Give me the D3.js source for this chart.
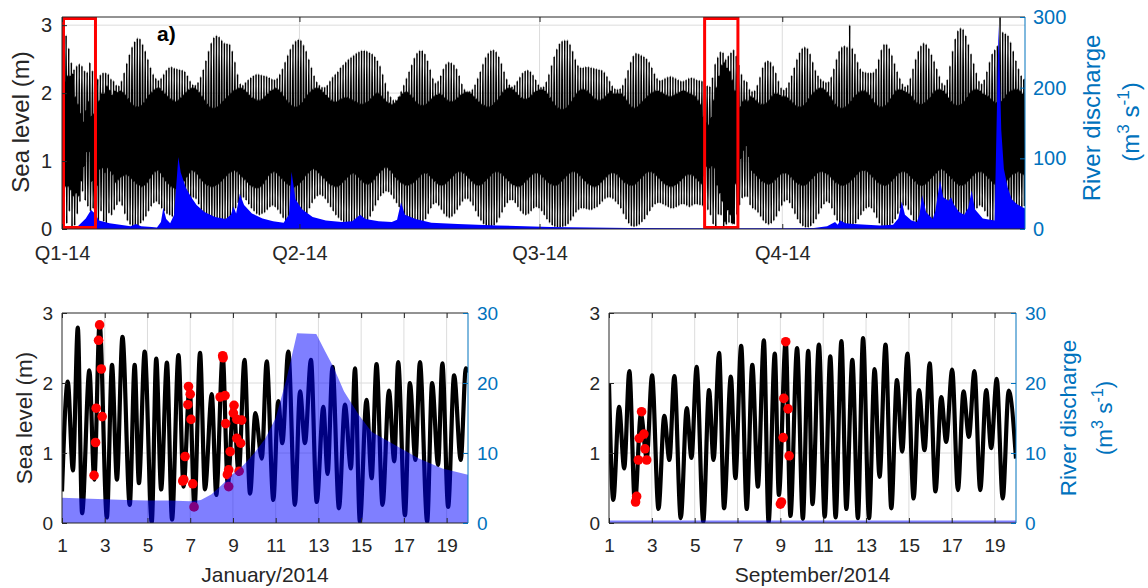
<!DOCTYPE html>
<html><head><meta charset="utf-8">
<script src="https://cdn.jsdelivr.net/npm/d3@7"></script>
<style>
html,body{margin:0;padding:0;background:#fff;}
</style></head><body>
<svg id="c" width="1148" height="588"></svg>
<script>
// ---------------- DATA ----------------
// Top panel: year 2014, one entry per day (day-of-year 0..364), sea level in cm
const quarterDays = [0, 90, 181, 273];
const quarterLabels = ["Q1-14", "Q2-14", "Q3-14", "Q4-14"];
// higher high water per day (cm)
const highHigh = [
279,285,266,245,235,240,243,240,233,231, 245,233,223,221,227,230,230,228,221,218,
212,211,218,230,244,257,268,276,281,280, 272,262,250,238,228,222,219,222,228,234,
238,239,237,236,235,234,232,226,218,213, 212,216,224,235,248,262,274,282,285,283,
278,274,273,272,262,246,228,214,212,216, 220,223,226,228,228,227,226,225,223,221,
220,222,228,236,246,256,265,272,277,279, 278,271,262,250,238,226,217,212,209,209,
212,218,224,228,232,238,242,246,250,253, 256,259,261,263,263,262,260,258,254,248,
240,228,215,203,195,190,190,195,203,212, 222,232,242,252,259,263,263,258,248,235,
222,215,218,226,236,243,246,245,242,236, 226,214,206,203,203,206,213,222,232,243,
253,259,263,264,261,254,244,232,221,213, 210,212,218,224,230,233,234,232,227,220,
213,209,210,217,228,241,254,265,273,277, 278,278,272,262,250,241,238,238,239,239,
238,237,236,235,234,231,225,218,211,207, 206,207,212,222,234,246,255,259,258,256,
254,251,246,238,229,222,219,220,222,224, 225,224,222,220,218,218,220,222,223,222,
220,219,218,217,211,210,223,243,253,261, 260,250,255,260,264,255,242,228,219,217,
206,203,204,212,224,238,246,248,246,240, 230,218,208,205,208,216,226,238,250,260,
266,268,266,258,246,234,226,221,218,216, 217,224,236,250,262,268,270,268,300,266,
258,246,236,232,231,230,230,231,236,250, 264,272,272,266,256,244,232,222,214,210,
212,222,236,250,262,270,274,272,266,257, 247,236,225,215,212,220,240,262,280,292,
296,294,285,272,258,244,230,218,214,220, 232,246,258,264,270,312,290,288,285,275,
262,248,236,226,220];
// lower high water per day (cm)
const lowHigh = [
202,218,226,226,229,195,184,170,157,174, 188,166,169,176,189,200,200,211,205,198,
204,202,204,202,198,192,186,182,180,180, 182,186,192,198,202,206,208,208,204,200,
196,192,190,188,190,194,198,202,206,208, 208,206,202,196,190,184,180,178,178,180,
184,188,192,196,200,204,206,208,208,206, 202,198,194,192,190,190,192,196,200,204,
206,208,206,202,196,190,186,182,180,180, 182,186,192,198,202,206,208,208,206,202,
198,194,190,188,188,190,192,194,194,192, 190,188,186,184,184,186,188,192,196,200,
200,196,192,188,186,184,186,190,196,200, 202,202,198,194,188,184,182,182,184,188,
192,196,198,200,198,194,190,188,188,190, 194,198,200,202,202,200,196,192,188,184,
182,180,180,182,186,190,196,202,206,208, 208,206,202,198,194,192,192,194,198,202,
204,206,206,204,200,194,188,182,178,176, 176,178,182,188,194,200,204,206,206,204,
200,196,192,190,190,192,196,200,204,200, 200,200,200,196,190,184,180,178,180,184,
188,192,196,200,202,204,204,202,200,198, 196,196,198,200,202,204,204,202,200,198,
196,190,184,166,156,153,164,190,209,226, 242,246,238,233,220,204,190,180,188,190,
189,196,194,190,186,184,184,186,190,196, 200,200,198,196,196,194,190,186,182,180,
180,182,186,192,198,202,206,208,208,206, 202,196,190,184,180,178,178,180,184,188,
194,198,202,204,204,202,198,192,186,182, 180,180,182,186,192,198,204,206,206,204,
202,200,196,190,186,184,184,186,190,194, 200,204,206,206,204,200,194,188,184,182,
182,184,188,194,200,204,206,206,204,200, 198,196,192,188,186,186,188,192,198,202,
204,206,206,204,200];
// higher low water per day (cm)
const highLow = [
75,62,62,57,48,52,48,70,92,114, 114,70,78,64,88,90,83,90,85,80,
68,72,76,78,80,78,74,70,66,64, 62,64,68,74,80,84,86,82,76,70,
66,62,60,58,60,64,70,76,82,86, 84,80,74,70,66,64,62,62,64,66,
70,74,78,82,84,86,84,80,76,72, 68,64,62,60,60,62,66,72,78,82,
84,82,78,74,70,66,64,62,62,64, 68,72,78,82,86,88,86,82,78,74,
70,66,64,62,62,64,68,72,76,80, 82,80,76,72,68,66,66,68,72,78,
82,86,90,90,86,82,76,72,68,66, 64,64,66,68,72,76,80,82,82,78,
74,70,66,64,64,66,70,74,78,82, 84,84,82,78,74,70,66,64,64,66,
70,74,78,82,84,84,82,78,74,70, 66,64,62,62,64,68,72,76,80,82,
82,80,76,72,68,66,64,64,66,70, 74,78,82,84,84,82,78,74,70,66,
64,62,62,64,68,72,76,80,82,82, 80,76,72,68,66,64,64,66,70,74,
78,82,84,84,82,78,74,70,66,64, 62,62,64,66,70,74,78,80,80,78,
74,70,66,78,92,90,93,90,64,52, 40,10,27,20,7,66,102,104,116,123,
107,86,82,78,74,70,68,66,66,68, 72,76,80,82,82,80,76,72,68,66,
64,64,66,70,74,78,82,84,84,82, 80,76,72,68,66,64,64,66,68,72,
76,80,84,86,86,84,80,76,72,68, 66,64,64,66,70,74,78,82,84,84,
82,78,74,70,66,64,64,66,70,74, 78,82,86,88,86,82,78,74,70,66,
64,64,66,70,74,78,82,84,84,82, 78,74,70,66,64,62,64,68,72,76,
80,82,84,82,80];
// lower low water per day (cm)
const lowLow = [
14,8,26,1,5,22,40,55,42,33, 26,30,21,2,26,11,2,23,20,28,
35,40,34,22,12,6,3,2,4,8, 12,18,26,33,38,40,36,30,26,22,
20,18,20,24,28,32,36,40,44,46, 44,36,26,16,8,4,2,2,3,5,
8,10,12,16,22,30,38,44,46,42, 36,30,26,22,20,22,24,28,32,34,
32,28,22,16,10,6,4,3,3,5, 8,14,22,30,38,44,48,50,48,44,
38,32,26,20,16,12,10,8,7,6, 6,5,5,6,8,12,18,26,34,42,
48,52,55,54,50,44,38,32,26,20, 14,10,7,5,4,5,8,14,22,30,
36,38,34,28,22,18,16,18,22,28, 34,40,44,44,40,34,26,18,12,7,
4,3,3,5,9,16,24,32,38,42, 42,38,32,26,22,20,22,26,30,32,
30,26,20,14,9,5,3,2,2,3, 4,7,12,18,24,28,30,30,29,28,
28,30,32,36,40,44,46,46,44,40, 36,30,22,14,8,4,3,4,6,10,
14,20,26,32,36,38,38,36,34,32, 30,30,32,34,36,36,34,32,34,36,
36,35,34,33,28,20,7,2,21,20, 1,6,9,8,7,21,35,45,47,47,
35,30,28,24,18,12,8,6,8,12, 18,26,34,40,42,38,30,22,14,8,
4,2,2,4,8,14,22,30,36,40, 38,30,20,12,6,3,2,2,1,4,
8,14,20,26,30,32,30,24,16,8, 4,2,2,4,8,14,22,30,34,34,
28,20,12,6,3,2,2,4,8,14, 20,28,34,36,30,20,10,4,1,0,
0,2,5,10,16,24,30,34,32,26, 18,10,6,3,2,0,2,3,6,10,
16,22,28,32,34];
// river discharge 2014 [day-of-year, m3/s]
const yearFlow = [
[0,2],[6,4],[9,15],[11,27],[12.5,22],[14,12],[18,8],[22,6],[26,4],[28,7],[30,4],[34,3],[36,2],
[37.5,10],[38.4,30],[39.5,14],[41,8],[42.5,20],[44.1,102],[45,80],[47,58],[49,45],[51,34],[54,24],
[58,17],[62,14],[64,20],[65,32],[66,22],[67.4,50],[69,34],[72,22],[76,15],[80,11],[84,9],[86,20],
[87,81],[88.5,42],[91,28],[95,17],[100,12],[106,10],[110,11],[113,20],[115,14],[120,11],[125,10],
[127,13],[128.5,38],[130,20],[134,14],[140,9],[150,7],[165,5],[185,3],[200,2],[215,1.5],[240,1],
[275,1],[285,1.5],[290,4],[293,10],[294,6],[295,12],[297,8],[300,7],[305,6],[310,5],[315,6],[317,15],
[318.3,39],[319.5,20],[322,12],[324,10],[325,20],[326,48],[327.5,24],[330,14],[331,25],[332.8,69],
[334,45],[336,40],[337,45],[338,35],[340,24],[342,20],[343.5,30],[344.8,55],[346,28],[349,15],
[353.5,12],[355,289],[356,140],[357,85],[358.5,58],[360,42],[362,35],[365,29]];
// highlighted windows [start day, end day]
const windowStart = [0, 243];
const windowEnd = [12.5, 256];

// January 2014 tide extremes [day, m]
const janTide = [
[1.00,0.45],[1.27,2.02],[1.51,0.75],[1.74,2.79],[1.94,0.14],[2.28,2.18],[2.51,0.62],[2.76,2.85],
[3.10,0.08],[3.34,2.26],[3.57,0.62],[3.83,2.66],[4.17,0.26],[4.40,2.26],[4.60,0.57],[4.87,2.45],
[5.20,0.01],[5.41,2.35],[5.64,0.48],[5.91,2.29],[6.15,0.05],[6.45,2.40],[6.69,0.52],[6.97,1.95],
[7.20,0.22],[7.46,2.43],[7.69,0.48],[8.01,1.84],[8.22,0.40],[8.52,2.40],[8.76,0.55],[9.02,1.70],
[9.27,0.70],[9.54,2.33],[9.80,0.42],[10.05,1.57],[10.35,0.92],[10.58,2.31],[10.89,0.33],[11.12,1.74],
[11.31,1.14],[11.59,2.45],[11.90,0.26],[12.14,1.88],[12.37,1.14],[12.65,2.33],[12.92,0.30],[13.23,1.66],
[13.43,0.70],[13.66,2.23],[13.96,0.21],[14.24,1.69],[14.52,0.78],[14.71,2.21],[14.94,0.02],[15.25,1.76],
[15.49,0.64],[15.72,2.27],[16.00,0.26],[16.30,1.89],[16.55,0.88],[16.73,2.30],[17.05,0.11],[17.28,2.00],
[17.54,0.90],[17.75,2.30],[18.09,0.02],[18.32,2.00],[18.60,0.83],[18.80,2.28],[19.07,0.23],[19.35,2.11],
[19.66,0.90],[19.90,2.21],[20.00,2.15]];
// January observations [day, m]
const janObs = [
[2.76,2.83],[2.71,2.61],[2.84,2.20],[2.60,1.64],[2.88,1.52],[2.57,1.15],[2.50,0.68],
[6.92,1.95],[7.00,1.84],[6.89,1.69],[7.04,1.48],[6.76,0.95],[6.65,0.60],[6.70,0.62],[7.12,0.56],[7.18,0.23],
[8.52,2.39],[8.54,2.36],[8.40,1.80],[8.63,1.82],[9.05,1.68],[9.02,1.57],[8.66,1.42],[9.18,1.48],[9.41,1.47],
[9.18,1.21],[9.36,1.14],[8.87,1.02],[8.80,0.76],[8.74,0.69],[8.80,0.52],[9.29,0.74]];
// January river discharge [day, m3/s]
const janFlow = [
[1,3.6],[2,3.5],[3,3.4],[4,3.3],[5,3.2],[6,3.2],[7,3.1],[7.5,3.3],[8,4.1],[8.5,5.5],[9,7.0],[9.5,8.3],
[10,10.0],[10.5,12.0],[11,15.0],[11.5,20.5],[12,27.1],[12.9,27.0],[13.3,24.6],[13.7,22.3],[14.2,18.8],
[14.9,15.4],[15.5,13.0],[16.6,11.1],[17.7,9.2],[18.8,7.8],[20,6.9]];

// September 2014 tide extremes [day, m]
const sepTide = [
[1.00,2.00],[1.20,0.33],[1.47,1.66],[1.71,0.78],[1.95,2.17],[2.21,0.28],[2.49,1.56],[2.76,0.92],
[3.01,2.11],[3.31,0.20],[3.58,1.53],[3.82,0.90],[4.05,2.10],[4.35,0.07],[4.63,1.64],[4.85,0.93],
[5.09,2.23],[5.40,0.02],[5.67,1.90],[5.88,0.90],[6.14,2.43],[6.37,0.21],[6.69,2.09],[6.90,0.64],
[7.17,2.53],[7.43,0.20],[7.69,2.26],[7.95,0.52],[8.23,2.61],[8.45,0.01],[8.74,2.42],[8.93,0.40],
[9.25,2.60],[9.47,0.10],[9.78,2.50],[10.05,0.06],[10.30,2.46],[10.50,0.27],[10.80,2.55],[11.07,0.09],
[11.33,2.38],[11.58,0.08],[11.85,2.60],[12.08,0.20],[12.36,2.33],[12.62,0.07],[12.86,2.64],[13.14,0.07],
[13.40,2.20],[13.63,0.66],[13.91,2.55],[14.18,0.21],[14.44,2.04],[14.69,1.02],[14.93,2.42],[15.22,0.35],
[15.47,1.90],[15.73,1.04],[15.97,2.28],[16.24,0.45],[16.51,1.80],[16.74,1.16],[17.02,2.19],[17.29,0.47],
[17.55,1.88],[17.80,1.23],[18.06,2.17],[18.33,0.47],[18.61,1.90],[18.84,1.07],[19.10,2.06],[19.38,0.35],
[19.66,1.89],[20.00,0.92]];
// September observations [day, m]
const sepObs = [
[2.52,1.59],[2.41,1.21],[2.63,1.27],[2.68,1.06],[2.37,0.90],[2.76,0.90],[2.29,0.38],[2.24,0.30],
[9.25,2.59],[9.16,1.78],[9.36,1.63],[9.13,1.22],[9.41,0.96],[9.05,0.30],[9.00,0.27]];
// September river discharge [day, m3/s]
const sepFlow = [[1,0.35],[20,0.35]];

const dayTicks = [1,3,5,7,9,11,13,15,17,19];
const levelTicks = [0,1,2,3];
const flowTicksTop = [0,100,200,300];
const flowTicksLow = [0,10,20,30];

// ---------------- DRAWING ----------------
const FONT = '"Liberation Sans", Arial, Helvetica, sans-serif';
const BLUE = "#0072BD", INK = "#262626", GRID = "#dcdcdc";
const svg = d3.select("#c");
const defs = svg.append("defs");

function styleAxis(sel, color, size) {
  sel.select(".domain").remove();
  sel.selectAll(".tick line").attr("stroke", color).attr("stroke-width", 1);
  sel.selectAll(".tick text").attr("fill", color).style("font-size", size + "px").style("font-family", FONT);
}
function vtext(x, y, size, color, parts) {
  const t = svg.append("text").attr("transform", `translate(${x},${y}) rotate(-90)`)
    .attr("text-anchor", "middle").attr("fill", color)
    .style("font-size", size + "px").style("font-family", FONT);
  let shifted = false;
  parts.forEach(p => {
    const s = t.append("tspan").text(p.t);
    if (p.sup) { s.attr("dy", -size * 0.42).style("font-size", (size * 0.72) + "px"); shifted = true; }
    else if (shifted) { s.attr("dy", size * 0.42); shifted = false; }
  });
}
function frame(g, x0, x1, y0, y1) {
  g.append("line").attr("x1", x0).attr("x2", x1).attr("y1", y0).attr("y2", y0).attr("stroke", INK);
  g.append("line").attr("x1", x0).attr("x2", x1).attr("y1", y1).attr("y2", y1).attr("stroke", INK);
  g.append("line").attr("x1", x0).attr("x2", x0).attr("y1", y0).attr("y2", y1).attr("stroke", INK);
  g.append("line").attr("x1", x1).attr("x2", x1).attr("y1", y0).attr("y2", y1).attr("stroke", BLUE);
}

// ===== Top panel =====
const xT = d3.scaleLinear().domain([0, 365]).range([62, 1025]);
const yT = d3.scaleLinear().domain([0, 3.12]).range([229, 17]);
const yTR = d3.scaleLinear().domain([0, 300]).range([229, 17]);
defs.append("clipPath").attr("id", "clipT").append("rect")
  .attr("x", 62).attr("y", 17).attr("width", 963).attr("height", 212);
const gT = svg.append("g");
gT.selectAll("line.vgT").data(quarterDays.slice(1)).join("line").attr("class", "vgT")
  .attr("x1", d => xT(d)).attr("x2", d => xT(d)).attr("y1", yT(3.12)).attr("y2", yT(0))
  .attr("stroke", GRID);
gT.selectAll("line.hgT").data(levelTicks.slice(1)).join("line").attr("class", "hgT")
  .attr("x1", xT(0)).attr("x2", xT(365)).attr("y1", d => yT(d)).attr("y2", d => yT(d))
  .attr("stroke", GRID);

const tidePts = [];
for (let d = 0; d < highHigh.length; d++) {
  tidePts.push([d + 0.05, lowHigh[d] / 100], [d + 0.30, highLow[d] / 100],
               [d + 0.55, highHigh[d] / 100], [d + 0.80, lowLow[d] / 100]);
}
gT.append("path").datum(tidePts).attr("clip-path", "url(#clipT)")
  .attr("d", d3.line().curve(d3.curveMonotoneX).x(d => xT(d[0])).y(d => yT(d[1])))
  .attr("fill", "none").attr("stroke", "#000").attr("stroke-width", 1.6);
gT.append("path").datum(yearFlow).attr("clip-path", "url(#clipT)")
  .attr("d", d3.area().x(d => xT(d[0])).y0(yTR(0)).y1(d => yTR(d[1])))
  .attr("fill", "#0000ff");
gT.selectAll("rect.win").data(windowStart).join("rect").attr("class", "win")
  .attr("x", (d, i) => xT(d) + 1.5).attr("width", (d, i) => xT(windowEnd[i]) - xT(d) - 1)
  .attr("y", yT(3.12) + 1.5).attr("height", yT(0) - yT(3.12) - 3)
  .attr("fill", "none").attr("stroke", "#ff0000").attr("stroke-width", 3);
frame(gT, 62, 1025, 17, 229);
gT.append("g").attr("transform", "translate(62,0)")
  .call(d3.axisLeft(yT).tickValues(levelTicks).tickFormat(d3.format("d")).tickSize(-5).tickPadding(10))
  .call(styleAxis, INK, 20);
gT.append("g").attr("transform", "translate(1025,0)")
  .call(d3.axisRight(yTR).tickValues(flowTicksTop).tickSize(-5).tickPadding(8))
  .call(styleAxis, BLUE, 20);
gT.append("g").attr("transform", "translate(0,229)")
  .call(d3.axisBottom(xT).tickValues(quarterDays).tickFormat((d, i) => quarterLabels[i]).tickSize(-5).tickPadding(17))
  .call(styleAxis, INK, 20);
gT.append("g").attr("transform", "translate(0,17)")
  .call(d3.axisTop(xT).tickValues(quarterDays).tickFormat("").tickSize(-5))
  .call(styleAxis, INK, 20);
svg.append("text").attr("x", 157).attr("y", 41).text("a)")
  .style("font-size", "21px").style("font-weight", "bold").style("font-family", FONT).attr("fill", "#000");
vtext(29, 122, 24, INK, [{t: "Sea level (m)"}]);
vtext(1100, 118, 24, BLUE, [{t: "River discharge"}]);
vtext(1139, 122, 24, BLUE, [{t: "(m"}, {t: "3", sup: true}, {t: " s"}, {t: "-1", sup: true}, {t: ")"}]);

// ===== Lower panels =====
function lowerPanel(id, x0, x1, tide, obs, flow, xlabel) {
  const x = d3.scaleLinear().domain([1, 20]).range([x0, x1]);
  const y = d3.scaleLinear().domain([0, 3]).range([523, 313]);
  const yR = d3.scaleLinear().domain([0, 30]).range([523, 313]);
  defs.append("clipPath").attr("id", id).append("rect")
    .attr("x", x0).attr("y", 313).attr("width", x1 - x0).attr("height", 210);
  const g = svg.append("g");
  g.selectAll("line.vg").data(dayTicks.slice(1)).join("line").attr("class", "vg")
    .attr("x1", d => x(d)).attr("x2", d => x(d)).attr("y1", 313).attr("y2", 523).attr("stroke", GRID);
  g.selectAll("line.hg").data([1, 2]).join("line").attr("class", "hg")
    .attr("x1", x0).attr("x2", x1).attr("y1", d => y(d)).attr("y2", d => y(d)).attr("stroke", GRID);
  g.append("path").datum(tide).attr("clip-path", `url(#${id})`)
    .attr("d", d3.line().curve(d3.curveMonotoneX).x(d => x(d[0])).y(d => y(d[1])))
    .attr("fill", "none").attr("stroke", "#000").attr("stroke-width", 4.2).attr("stroke-linejoin", "round");
  g.selectAll("circle.obs").data(obs).join("circle").attr("class", "obs")
    .attr("cx", d => x(d[0])).attr("cy", d => y(d[1])).attr("r", 4.8).attr("fill", "#ff0000");
  g.append("path").datum(flow).attr("clip-path", `url(#${id})`)
    .attr("d", d3.area().x(d => x(d[0])).y0(yR(0)).y1(d => yR(d[1])))
    .attr("fill", "#0000ff").attr("fill-opacity", 0.5);
  frame(g, x0, x1, 313, 523);
  g.append("g").attr("transform", `translate(${x0},0)`)
    .call(d3.axisLeft(y).tickValues(levelTicks).tickFormat(d3.format("d")).tickSize(-5).tickPadding(9))
    .call(styleAxis, INK, 19);
  g.append("g").attr("transform", `translate(${x1},0)`)
    .call(d3.axisRight(yR).tickValues(flowTicksLow).tickSize(-5).tickPadding(9))
    .call(styleAxis, BLUE, 19);
  g.append("g").attr("transform", "translate(0,523)")
    .call(d3.axisBottom(x).tickValues(dayTicks).tickSize(-5).tickPadding(16))
    .call(styleAxis, INK, 19);
  g.append("g").attr("transform", "translate(0,313)")
    .call(d3.axisTop(x).tickValues(dayTicks).tickFormat("").tickSize(-5))
    .call(styleAxis, INK, 19);
  svg.append("text").attr("x", (x0 + x1) / 2).attr("y", 582).attr("text-anchor", "middle")
    .text(xlabel).style("font-size", "21px").style("font-family", FONT).attr("fill", INK);
}
lowerPanel("clipJ", 62, 468, janTide, janObs, janFlow, "January/2014");
lowerPanel("clipS", 609, 1016, sepTide, sepObs, sepFlow, "September/2014");
vtext(32, 418, 22.5, INK, [{t: "Sea level (m)"}]);
vtext(1076, 418, 22.5, BLUE, [{t: "River discharge"}]);
vtext(1112, 418, 22.5, BLUE, [{t: "(m"}, {t: "3", sup: true}, {t: " s"}, {t: "-1", sup: true}, {t: ")"}]);
</script>
</body></html>
